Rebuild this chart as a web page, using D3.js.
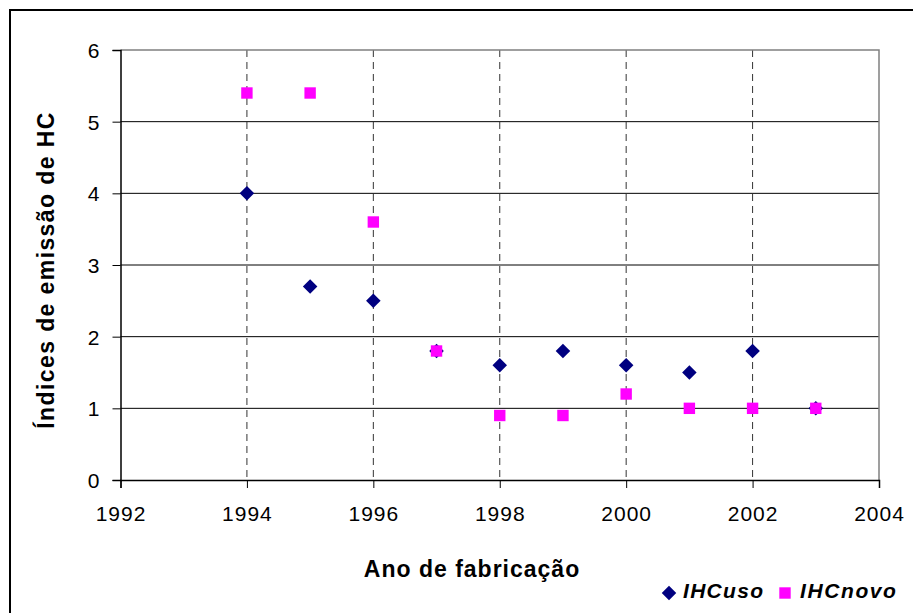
<!DOCTYPE html>
<html>
<head>
<meta charset="utf-8">
<script src="https://cdn.jsdelivr.net/npm/d3@7"></script>
<style>
  body { margin: 0; background: #fff; }
  svg { display: block; font-family: "Liberation Sans", Arial, sans-serif; }
</style>
</head>
<body>
<svg id="chart" width="913" height="613"></svg>
<script>
// dados
const anos = [1994, 1995, 1996, 1997, 1998, 1999, 2000, 2001, 2002, 2003];
const ihcUso = [4.0, 2.7, 2.5, 1.8, 1.6, 1.8, 1.6, 1.5, 1.8, 1.0];
const ihcNovo = [5.4, 5.4, 3.6, 1.8, 0.9, 0.9, 1.2, 1.0, 1.0, 1.0];
const xTicks = [1992, 1994, 1996, 1998, 2000, 2002, 2004];
const yTicks = [0, 1, 2, 3, 4, 5, 6];
const serieNomes = ["IHCuso", "IHCnovo"];

const svg = d3.select("#chart");

// moldura externa (cortada à direita e embaixo)
svg.append("rect")
  .attr("x", 10).attr("y", 10)
  .attr("width", 920).attr("height", 620)
  .attr("fill", "none")
  .attr("stroke", "#000")
  .attr("stroke-width", 2);

const mLeft = 120.5, mRight = 879, mTop = 50, mBottom = 480;

const x = d3.scaleLinear().domain([1992, 2004]).range([mLeft, mRight]);
const y = d3.scaleLinear().domain([0, 6]).range([mBottom, mTop]);

// grade horizontal
svg.append("g")
  .selectAll("line")
  .data(yTicks.filter(d => d > 0 && d < 6))
  .join("line")
  .attr("x1", mLeft).attr("x2", mRight)
  .attr("y1", d => y(d)).attr("y2", d => y(d))
  .attr("stroke", "#000")
  .attr("stroke-width", 1);

// grade vertical tracejada
svg.append("g")
  .selectAll("line")
  .data(xTicks.filter(d => d > 1992 && d < 2004))
  .join("line")
  .attr("x1", d => x(d)).attr("x2", d => x(d))
  .attr("y1", mTop).attr("y2", mBottom)
  .attr("stroke", "#333")
  .attr("stroke-width", 1)
  .attr("stroke-dasharray", "7,5");

// borda superior e direita (cinza)
svg.append("path")
  .attr("d", `M${mLeft},${mTop}H${mRight}V${mBottom}`)
  .attr("fill", "none")
  .attr("stroke", "#808080")
  .attr("stroke-width", 1.5);

// eixos
const xAxis = d3.axisBottom(x).tickValues(xTicks).tickFormat(d3.format("d")).tickSizeOuter(0).tickSize(8).tickPadding(18);
const yAxis = d3.axisLeft(y).tickValues(yTicks).tickFormat(d3.format("d")).tickSizeOuter(0).tickSize(8).tickPadding(12);

const gx = svg.append("g").attr("transform", `translate(0,${mBottom})`).call(xAxis);
const gy = svg.append("g").attr("transform", `translate(${mLeft},0)`).call(yAxis);

[gx, gy].forEach(g => {
  g.select(".domain").attr("stroke", "#000").attr("stroke-width", 1.5);
  g.selectAll(".tick line").attr("stroke", "#000");
  g.selectAll(".tick text")
    .attr("fill", "#000")
    .style("font-size", "21px")
    .style("letter-spacing", "1px")
    .style("font-family", "'Liberation Sans', Arial, sans-serif");
});
gy.selectAll(".tick text").attr("dy", "0.36em");

// títulos dos eixos
svg.append("text")
  .attr("x", 472).attr("y", 577)
  .attr("text-anchor", "middle")
  .style("font-size", "23px")
  .style("font-weight", "bold")
  .style("letter-spacing", "1px")
  .text("Ano de fabricação");

svg.append("text")
  .attr("transform", `translate(54,${(mTop + mBottom) / 2 + 5}) rotate(-90)`)
  .attr("text-anchor", "middle")
  .style("font-size", "23px")
  .style("font-weight", "bold")
  .style("letter-spacing", "1.4px")
  .text("Índices de emissão de HC");

// marcadores
const diamond = d3.symbol().type(d3.symbolDiamond2).size(135);
const square = d3.symbol().type(d3.symbolSquare).size(130);

svg.append("g")
  .selectAll("path")
  .data(anos.map((a, i) => [a, ihcUso[i]]))
  .join("path")
  .attr("d", diamond)
  .attr("transform", d => `translate(${x(d[0])},${y(d[1])})`)
  .attr("fill", "#000080");

svg.append("g")
  .selectAll("path")
  .data(anos.map((a, i) => [a, ihcNovo[i]]))
  .join("path")
  .attr("d", square)
  .attr("transform", d => `translate(${x(d[0])},${y(d[1])})`)
  .attr("fill", "#ff00ff");

// legenda
const leg = svg.append("g");
leg.append("path").attr("d", diamond).attr("transform", "translate(669,593)").attr("fill", "#000080");
leg.append("text").attr("x", 683).attr("y", 598)
  .style("font-size", "21px").style("font-weight", "bold").style("font-style", "italic")
  .style("letter-spacing", "1.3px")
  .text(serieNomes[0]);
leg.append("path").attr("d", square).attr("transform", "translate(785,593)").attr("fill", "#ff00ff");
leg.append("text").attr("x", 800).attr("y", 598)
  .style("font-size", "21px").style("font-weight", "bold").style("font-style", "italic")
  .style("letter-spacing", "1.6px")
  .text(serieNomes[1]);
</script>
</body>
</html>
